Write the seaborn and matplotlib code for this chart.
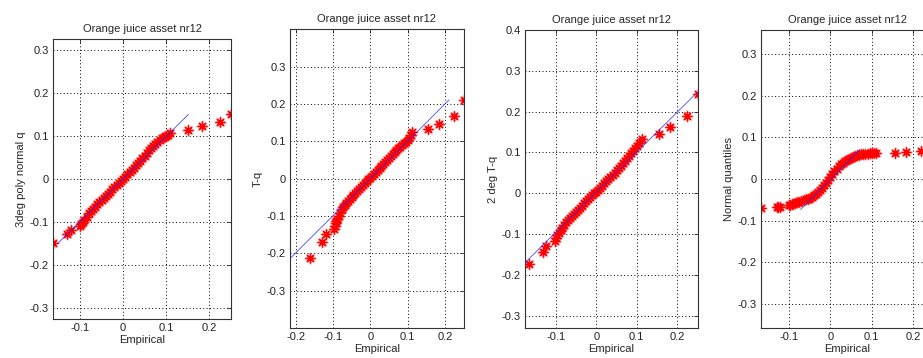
import numpy as np
import pandas as pd
import seaborn as sns
import matplotlib
matplotlib.use('Agg')
import matplotlib.pyplot as plt

# QQ-plot values: empirical quantiles (x) vs model quantiles (y)
emp_poly = [-0.164, -0.131, -0.121, -0.100, -0.097, -0.094, -0.090, -0.085, -0.080, -0.075,
            -0.070, -0.065, -0.060, -0.055, -0.050, -0.045, -0.040, -0.035, -0.030, -0.025,
            -0.020, -0.015, -0.010, -0.005, 0.000, 0.005, 0.010, 0.015, 0.020, 0.025,
            0.030, 0.035, 0.040, 0.045, 0.050, 0.055, 0.060, 0.065, 0.070, 0.075,
            0.080, 0.085, 0.090, 0.095, 0.100, 0.105, 0.110, 0.152, 0.183, 0.225, 0.251]
q_poly = [-0.148, -0.128, -0.118, -0.110, -0.105, -0.100, -0.095, -0.088, -0.080, -0.074,
          -0.069, -0.064, -0.059, -0.054, -0.049, -0.044, -0.039, -0.034, -0.029, -0.024,
          -0.019, -0.014, -0.009, -0.004, 0.001, 0.006, 0.011, 0.016, 0.021, 0.027,
          0.032, 0.037, 0.043, 0.049, 0.055, 0.061, 0.067, 0.072, 0.077, 0.082,
          0.086, 0.091, 0.095, 0.099, 0.101, 0.104, 0.107, 0.114, 0.123, 0.134, 0.153]
line_poly_x = [-0.152, 0.152]
line_poly_y = [-0.150, 0.151]

emp_t = [-0.162, -0.130, -0.119, -0.096, -0.094, -0.093, -0.091, -0.089, -0.085, -0.081,
         -0.077, -0.073, -0.069, -0.065, -0.060, -0.055, -0.050, -0.045, -0.040, -0.035,
         -0.030, -0.025, -0.020, -0.015, -0.010, -0.005, 0.000, 0.005, 0.010, 0.015,
         0.020, 0.025, 0.030, 0.035, 0.040, 0.045, 0.050, 0.055, 0.060, 0.065,
         0.070, 0.075, 0.080, 0.085, 0.090, 0.095, 0.100, 0.105, 0.108, 0.112,
         0.154, 0.184, 0.225, 0.251]
q_t = [-0.213, -0.170, -0.148, -0.135, -0.127, -0.120, -0.114, -0.108, -0.100, -0.092,
       -0.082, -0.076, -0.071, -0.066, -0.060, -0.055, -0.049, -0.044, -0.038, -0.033,
       -0.028, -0.022, -0.017, -0.012, -0.007, -0.002, 0.003, 0.008, 0.013, 0.018,
       0.023, 0.028, 0.033, 0.039, 0.044, 0.050, 0.055, 0.061, 0.066, 0.071,
       0.076, 0.081, 0.086, 0.090, 0.095, 0.099, 0.103, 0.110, 0.116, 0.125,
       0.133, 0.147, 0.168, 0.211]
line_t_x = [-0.213, 0.211]
line_t_y = [-0.212, 0.211]

emp_t2 = [-0.167, -0.132, -0.124, -0.102, -0.099, -0.096, -0.092, -0.088, -0.084, -0.080,
          -0.075, -0.070, -0.065, -0.060, -0.055, -0.050, -0.045, -0.040, -0.035, -0.030,
          -0.025, -0.020, -0.015, -0.010, -0.005, 0.000, 0.005, 0.010, 0.015, 0.020,
          0.025, 0.030, 0.035, 0.040, 0.045, 0.050, 0.055, 0.060, 0.065, 0.070,
          0.075, 0.080, 0.085, 0.090, 0.095, 0.100, 0.105, 0.112, 0.155, 0.183, 0.224, 0.251]
q_t2 = [-0.172, -0.145, -0.128, -0.118, -0.110, -0.103, -0.097, -0.090, -0.084, -0.077,
        -0.071, -0.066, -0.060, -0.055, -0.050, -0.045, -0.040, -0.035, -0.030, -0.025,
        -0.020, -0.015, -0.010, -0.005, 0.000, 0.004, 0.009, 0.014, 0.019, 0.024,
        0.029, 0.034, 0.039, 0.045, 0.050, 0.056, 0.062, 0.068, 0.074, 0.080,
        0.086, 0.092, 0.098, 0.104, 0.110, 0.116, 0.122, 0.133, 0.145, 0.163, 0.189, 0.244]
line_t2_x = [-0.176, 0.247]
line_t2_y = [-0.170, 0.245]

emp_norm = [-0.168, -0.130, -0.126, -0.123, -0.100, -0.097, -0.094, -0.090, -0.085, -0.080,
            -0.075, -0.070, -0.065, -0.060, -0.055, -0.050, -0.045, -0.040, -0.035, -0.030,
            -0.025, -0.020, -0.015, -0.010, -0.005, 0.000, 0.005, 0.010, 0.015, 0.020,
            0.025, 0.030, 0.035, 0.040, 0.045, 0.050, 0.055, 0.060, 0.065, 0.070,
            0.075, 0.080, 0.085, 0.090, 0.095, 0.100, 0.105, 0.110, 0.156, 0.184, 0.220, 0.251]
q_norm = [-0.070, -0.067, -0.066, -0.066, -0.063, -0.062, -0.060, -0.059, -0.058, -0.056,
          -0.055, -0.053, -0.051, -0.049, -0.047, -0.045, -0.042, -0.039, -0.035, -0.031,
          -0.026, -0.021, -0.015, -0.009, -0.003, 0.004, 0.011, 0.018, 0.024, 0.030,
          0.035, 0.039, 0.043, 0.046, 0.049, 0.051, 0.053, 0.055, 0.057, 0.058,
          0.059, 0.060, 0.061, 0.061, 0.062, 0.062, 0.062, 0.062, 0.063, 0.065, 0.066, 0.068]
line_norm_x = [-0.072, 0.072]
line_norm_y = [-0.073, 0.071]

ylabels = ['3deg poly normal q', 'T-q', '2 deg T-q', 'Normal quantiles']
title = 'Orange juice asset nr12'

sns.set_style('white')
plt.rcParams['font.family'] = ['Liberation Sans', 'DejaVu Sans']
plt.rcParams['font.size'] = 8

fig = plt.figure(figsize=(9.23, 3.58), dpi=100)

panels = [
    dict(x=emp_poly, y=q_poly, lx=line_poly_x, ly=line_poly_y,
         pos=[0.0574, 0.1089, 0.1929, 0.7813], xlim=(-0.163, 0.251), ylim=(-0.326, 0.326),
         xt=[-0.1, 0, 0.1, 0.2], yt=[-0.3, -0.2, -0.1, 0, 0.1, 0.2, 0.3]),
    dict(x=emp_t, y=q_t, lx=line_t_x, ly=line_t_y,
         pos=[0.3142, 0.0838, 0.1885, 0.8344], xlim=(-0.215, 0.251), ylim=(-0.4, 0.4),
         xt=[-0.2, -0.1, 0, 0.1, 0.2], yt=[-0.3, -0.2, -0.1, 0, 0.1, 0.2, 0.3]),
    dict(x=emp_t2, y=q_t2, lx=line_t2_x, ly=line_t2_y,
         pos=[0.5688, 0.0838, 0.1874, 0.8324], xlim=(-0.176, 0.251), ylim=(-0.33, 0.4),
         xt=[-0.1, 0, 0.1, 0.2], yt=[-0.3, -0.2, -0.1, 0, 0.1, 0.2, 0.3, 0.4]),
    dict(x=emp_norm, y=q_norm, lx=line_norm_x, ly=line_norm_y,
         pos=[0.8245, 0.0838, 0.1874, 0.8324], xlim=(-0.168, 0.251), ylim=(-0.357, 0.357),
         xt=[-0.1, 0, 0.1, 0.2], yt=[-0.3, -0.2, -0.1, 0, 0.1, 0.2, 0.3]),
]


def fmt(v):
    return '0' if abs(v) < 1e-9 else ('%g' % v)


for p, yl in zip(panels, ylabels):
    ax = fig.add_axes(p['pos'])
    df = pd.DataFrame({'Empirical': p['x'], 'q': p['y']})
    # soft halo first, then the crisp asterisks on top (mimics the old renderer)
    sns.scatterplot(data=df, x='Empirical', y='q', ax=ax, marker=(8, 2, 0), s=52,
                    color='#ff8080', edgecolor='#ff8080', linewidth=1.5, zorder=2,
                    alpha=0.5)
    sns.scatterplot(data=df, x='Empirical', y='q', ax=ax, marker=(8, 2, 0), s=40,
                    color='red', edgecolor='red', linewidth=0.9, zorder=2.5)
    sns.lineplot(x=p['lx'], y=p['ly'], ax=ax, color='#2a2aff', linewidth=0.6,
                 alpha=0.85, zorder=3)
    ax.set_xlim(p['xlim'])
    ax.set_ylim(p['ylim'])
    ax.set_xticks(p['xt'])
    ax.set_xticklabels([fmt(v) for v in p['xt']])
    ax.set_yticks(p['yt'])
    ax.set_yticklabels([fmt(v) for v in p['yt']])
    ax.grid(True, linestyle=(0, (1, 2.5)), color='black', linewidth=0.7)
    ax.tick_params(direction='in', length=3, width=0.6, top=True, right=True,
                   labelsize=8, pad=3, colors='#222222')
    for s in ax.spines.values():
        s.set_color('#333333')
        s.set_linewidth(0.8)
    ax.set_title(title, fontsize=8, pad=5)
    ax.set_xlabel('Empirical', fontsize=8, labelpad=1)
    ax.set_ylabel(yl, fontsize=8, labelpad=3)

fig.savefig('out.png', dpi=100)
